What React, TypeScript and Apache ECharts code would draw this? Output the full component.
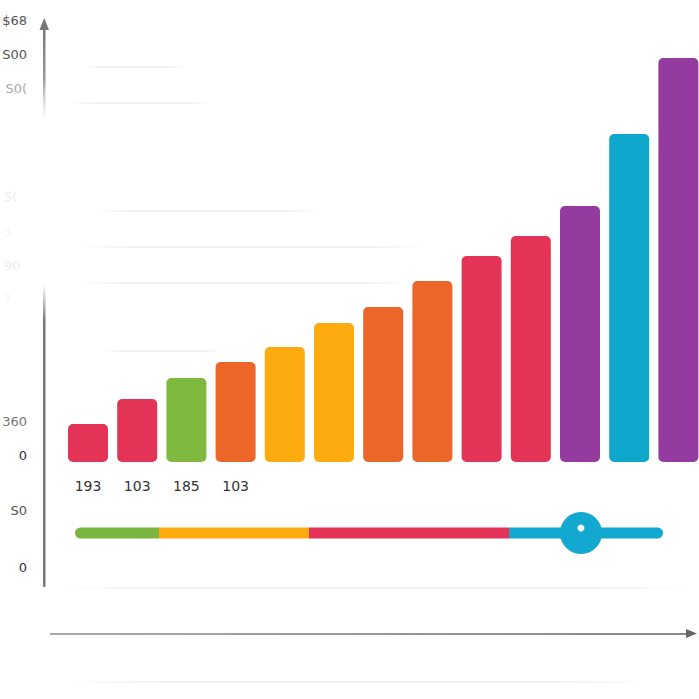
import * as echarts from "echarts"
import { useEffect, useRef } from "react"

// tall bars
const barLabels = ["193", "103", "185", "103", "", "", "", "", "", "", "", "", ""]
const barValues = [38, 63, 84, 100, 115, 139, 155, 181, 206, 226, 256, 328, 404]
const barColors = [
  "#e33458", "#e33458", "#7fb93f", "#ec662a", "#fdab0f", "#fdab0f", "#ec662a",
  "#ec662a", "#e33458", "#e33458", "#933b9e", "#0fa7cb", "#933b9e",
]

// range strip below the bars
const stripValues = [84, 150, 200, 154]
const stripColors = ["#7ab53f", "#fdab0f", "#e33458", "#12a8d0"]
const stripHandle = 506

const tickLabels = ["$68", "S00", "S0(", "S(", "5", "90", "?", "360", "0", "S0", "0"]
const tickRows = [20, 54, 88, 196, 231, 265, 298, 421, 455, 510, 567]
const tickColors = ["#555", "#555", "#aaa", "#eeeeee", "#f4f4f4", "#eeeeee", "#f4f4f4", "#777", "#333", "#555", "#333"]
const tickLeft = [false, false, false, true, true, true, true, false, false, false, false]

// faint guide rules: y, from, to
const guides = [
  [67, 85, 186],
  [103, 70, 212],
  [211, 95, 320],
  [247, 80, 426],
  [283, 75, 416],
  [351, 105, 222],
  [588, 60, 692],
  [682, 68, 650],
]

const fade = (x2: number, y2: number, stops: [number, string][]) =>
  new echarts.graphic.LinearGradient(0, 0, x2, y2, stops.map(([offset, color]) => ({ offset, color })))

export default function App() {
  const ref = useRef<HTMLDivElement>(null)

  useEffect(() => {
    if (!ref.current) return
    const chart = echarts.init(ref.current, undefined, { renderer: "svg" })

    const stripSeries = stripValues.map((v, i) => ({
      type: "bar",
      stack: "strip",
      xAxisIndex: 1,
      yAxisIndex: 1,
      barWidth: 11,
      data: [v],
      itemStyle: {
        color: stripColors[i],
        borderRadius: i === 0 ? [6, 0, 0, 6] : i === stripValues.length - 1 ? [0, 6, 6, 0] : 0,
      },
    }))

    chart.setOption({
      animation: false,
      backgroundColor: "#ffffff",
      grid: [
        // the last bar's band runs past the canvas, so don't let echarts shrink the grid
        { left: 63.4, top: 0, width: 639.6, height: 462, outerBoundsMode: "none" },
        { left: 75, top: 527.5, width: 588, height: 11, outerBoundsMode: "none" },
      ],
      xAxis: [
        {
          type: "category",
          data: barLabels,
          axisLine: { show: false },
          axisTick: { show: false },
          axisLabel: {
            interval: 0,
            margin: 17,
            color: "#333",
            fontSize: 14,
            fontFamily: "DejaVu Sans",
          },
        },
        { type: "value", gridIndex: 1, min: 0, max: 588, show: false },
      ],
      yAxis: [
        { type: "value", min: 0, max: 462, show: false },
        { type: "category", gridIndex: 1, data: ["strip"], show: false },
      ],
      series: [
        {
          type: "bar",
          barWidth: 40,
          data: barValues.map((value, i) => ({ value, itemStyle: { color: barColors[i] } })),
          itemStyle: { borderRadius: 5 },
        },
        ...stripSeries,
        {
          type: "scatter",
          xAxisIndex: 1,
          yAxisIndex: 1,
          symbolSize: 42,
          z: 3,
          itemStyle: { color: "#12a8d0", opacity: 1 },
          data: [[stripHandle, 0]],
        },
        {
          type: "scatter",
          xAxisIndex: 1,
          yAxisIndex: 1,
          symbolSize: 7,
          symbolOffset: [0, -5],
          z: 4,
          itemStyle: { color: "#ffffff", opacity: 1 },
          data: [[stripHandle, 0]],
        },
      ],
      graphic: [
        ...guides.map(([y, from, to]) => ({
          type: "rect",
          z: -1,
          shape: { x: from, y: y - 0.5, width: to - from, height: 1 },
          style: {
            fill: fade(1, 0, [
              [0, "rgba(228,228,228,0)"],
              [0.15, "rgba(228,228,228,1)"],
              [0.85, "rgba(228,228,228,1)"],
              [1, "rgba(228,228,228,0)"],
            ]),
          },
        })),
        ...tickLabels.map((text, i) => ({
          type: "text",
          x: tickLeft[i] ? 4 : 27,
          y: tickRows[i],
          style: {
            text,
            fill: tickColors[i],
            font: "13px 'DejaVu Sans'",
            align: tickLeft[i] ? "left" : "right",
            verticalAlign: "middle",
          },
        })),
        // vertical axis, broken by a fade in the middle
        {
          type: "rect",
          shape: { x: 43, y: 28, width: 2.5, height: 92 },
          style: { fill: fade(0, 1, [[0, "#777"], [0.55, "#999"], [1, "rgba(200,200,200,0)"]]) },
        },
        {
          type: "rect",
          shape: { x: 43, y: 285, width: 2.5, height: 302, r: 1 },
          style: { fill: fade(0, 1, [[0, "rgba(120,120,120,0)"], [0.12, "#777"], [1, "#777"]]) },
        },
        {
          type: "polygon",
          shape: { points: [[39.5, 30], [44.2, 18], [49, 30]] },
          style: { fill: "#777" },
        },
        // horizontal axis
        {
          type: "rect",
          shape: { x: 50, y: 633, width: 638, height: 2 },
          style: { fill: fade(1, 0, [[0, "#aaa"], [1, "#888"]]) },
        },
        {
          type: "polygon",
          shape: { points: [[686, 629], [697, 633.5], [686, 638]] },
          style: { fill: "#666" },
        },
      ],
    })

    return () => chart.dispose()
  }, [])

  return <div ref={ref} style={{ position: "fixed", left: 0, top: 0, width: 699, height: 699 }} />
}
